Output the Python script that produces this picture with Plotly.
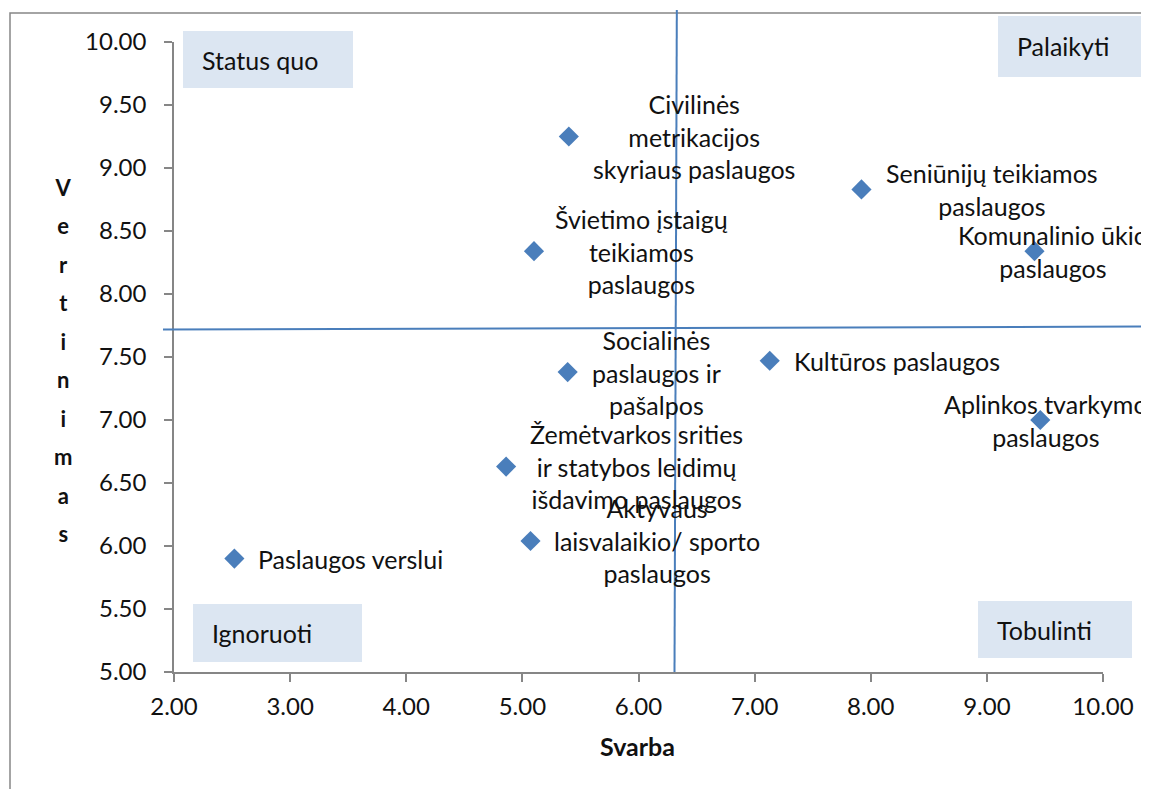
import plotly.graph_objects as go

# ---- data ----
services = [
    "Paslaugos verslui",
    "Civilinės<br>metrikacijos<br>skyriaus paslaugos",
    "Švietimo įstaigų<br>teikiamos<br>paslaugos",
    "Socialinės<br>paslaugos ir<br>pašalpos",
    "Žemėtvarkos srities<br>ir statybos leidimų<br>išdavimo paslaugos",
    "Aktyvaus<br>laisvalaikio/ sporto<br>paslaugos",
    "Seniūnijų teikiamos<br>paslaugos",
    "Komunalinio ūkio<br>paslaugos",
    "Kultūros paslaugos",
    "Aplinkos tvarkymo<br>paslaugos",
]
importance = [2.52, 5.40, 5.10, 5.39, 4.86, 5.07, 7.92, 9.41, 7.13, 9.46]   # Svarba
rating     = [5.90, 9.25, 8.34, 7.38, 6.63, 6.04, 8.83, 8.34, 7.47, 7.00]   # Vertinimas
x_ticks = [2, 3, 4, 5, 6, 7, 8, 9, 10]
y_ticks = [5.0, 5.5, 6.0, 6.5, 7.0, 7.5, 8.0, 8.5, 9.0, 9.5, 10.0]
mean_importance = 6.32
mean_rating = 7.73
quadrants = ["Status quo", "Palaikyti", "Ignoruoti", "Tobulinti"]

# ---- styling / layout ----
OFF = 8                      # page body margin of the html page
W, H = 1149 - OFF, 789 - OFF
L, R, T, B = 174, 1103, 42, 672   # plot area in window pixels
FONT = "Lato"
BLUE = "#4A7EBB"
BOXC = "#DCE6F2"
AXC = "#868686"
TXT = "#111111"
FS = 25
FS_TICK = 24

def px(x):
    return (x - L) / (R - L)

def py(y):
    return (B - y) / (B - T)

# label placement: (xanchor, xshift, yshift)
label_pos = [
    ("left", 22, 0),
    ("left", 22, 0),
    ("left", 19, 0),
    ("left", 22, 0),
    ("left", 22, 0),
    ("left", 21, 0),
    ("left", 23, 0),
    ("center", 19, 0),
    ("left", 22, 0),
    ("center", 6, 0),
]

fig = go.Figure()
fig.add_trace(go.Scatter(
    x=importance, y=rating, mode="markers",
    marker=dict(symbol="diamond", size=15.5, color=BLUE, line=dict(width=0)),
    hoverinfo="skip", showlegend=False, cliponaxis=False,
))

annotations = []
for xv, yv, txt, (xa, xs, ys) in zip(importance, rating, services, label_pos):
    annotations.append(dict(
        x=xv, y=yv, xref="x", yref="y", text=txt, showarrow=False,
        xanchor=xa, yanchor="middle", align="center", xshift=xs, yshift=ys,
        font=dict(family=FONT, size=FS, color=TXT),
    ))

shapes = []
# outer chart border
shapes.append(dict(type="rect", xref="paper", yref="paper",
                   x0=px(10), x1=px(1170), y0=py(13), y1=py(810),
                   line=dict(color=AXC, width=1.5), fillcolor="rgba(0,0,0,0)", layer="below"))

# quadrant label boxes (pixel boxes) and texts
boxes = [(183, 353, 31, 88), (998, 1160, 16, 77), (193, 362, 604, 662), (978, 1132, 601, 658)]
for name, (x0, x1, y0, y1) in zip(quadrants, boxes):
    shapes.append(dict(type="rect", xref="paper", yref="paper",
                       x0=px(x0), x1=px(x1), y0=py(y1), y1=py(y0),
                       line=dict(width=0), fillcolor=BOXC, layer="below"))
    annotations.append(dict(
        x=px(x0 + 17), y=py((y0 + y1) / 2), xref="paper", yref="paper",
        text=name, showarrow=False, xanchor="left", yanchor="middle",
        font=dict(family=FONT, size=FS, color=TXT),
    ))

# quadrant divider lines
shapes.append(dict(type="line", xref="x", yref="paper",
                   x0=mean_importance - 0.01, x1=mean_importance + 0.01,
                   y0=0, y1=py(10), line=dict(color=BLUE, width=2)))
shapes.append(dict(type="line", xref="paper", yref="y",
                   x0=px(163), x1=px(1160), y0=mean_rating - 0.012, y1=mean_rating + 0.012,
                   line=dict(color=BLUE, width=2)))

# axis titles
annotations.append(dict(
    x=px(637), y=py(746), xref="paper", yref="paper", text="<b>Svarba</b>",
    showarrow=False, xanchor="center", yanchor="middle",
    font=dict(family=FONT, size=FS, color=TXT),
))
letters = "Vertinimas"
ytitle = "<br>".join(f"<span style='font-size:22px'><b>{c}</b></span>" for c in letters)
annotations.append(dict(
    x=px(63), y=py(360), xref="paper", yref="paper", text=ytitle,
    showarrow=False, xanchor="center", yanchor="middle", align="center",
    font=dict(family=FONT, size=29.6, color=TXT),
))

fig.update_layout(
    width=W, height=H,
    margin=dict(l=L - OFF, r=W - (R - OFF), t=T - OFF, b=H - (B - OFF), pad=0),
    paper_bgcolor="white", plot_bgcolor="white",
    font=dict(family=FONT, size=FS, color=TXT),
    xaxis=dict(range=[2, 10], tickvals=x_ticks, tickformat=".2f",
               showgrid=False, zeroline=False, showline=True, linecolor=AXC, linewidth=1.5,
               ticks="outside", ticklen=8, tickcolor=AXC, tickwidth=1.5,
               ticklabelstandoff=4, tickfont=dict(family=FONT, size=FS_TICK, color=TXT)),
    yaxis=dict(range=[5, 10], tickvals=y_ticks, tickformat=".2f",
               showgrid=False, zeroline=False, showline=True, linecolor=AXC, linewidth=1.5,
               ticks="outside", ticklen=8, tickcolor=AXC, tickwidth=1.5,
               ticklabelstandoff=13, tickfont=dict(family=FONT, size=FS_TICK, color=TXT)),
    shapes=shapes, annotations=annotations,
)

fig.write_html("out.html")
